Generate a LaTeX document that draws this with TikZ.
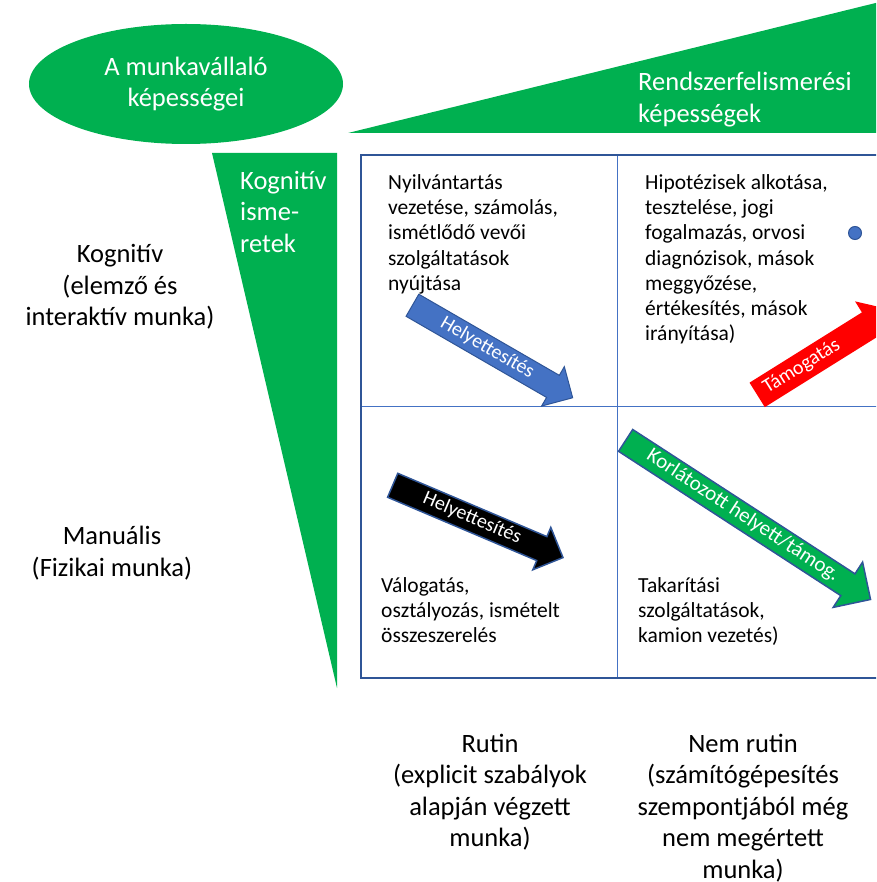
\documentclass[tikz,border=0pt]{standalone}
\usepackage{fontspec}
\setmainfont{Carlito}
\setsansfont{Carlito}
\definecolor{kgreen}{RGB}{0,176,80}
\definecolor{kblue}{RGB}{68,114,196}
\definecolor{kdarkblue}{RGB}{47,85,151}
\tikzset{every picture/.style={/utils/exec={\sffamily}}}
\usetikzlibrary{positioning}
\usetikzlibrary{shapes.geometric,shapes.arrows}
\tikzset{
  bigtext/.style={align=center, font=\fontsize{26.5}{31.5}\selectfont},
  celltext/.style={align=left, anchor=north west, inner sep=0pt,
    font=\fontsize{21.5}{25.3}\selectfont, execute at begin node=\strut},
  blockarrow/.style={single arrow, anchor=tail, text=white, inner xsep=4pt,
    inner ysep=3pt, text height=14pt, text depth=4.5pt,
    single arrow head extend=10pt, font=\fontsize{20}{22}\selectfont},
}

\begin{document}
\begin{tikzpicture}[x=1pt, y=-1pt]
  \useasboundingbox (0,0) rectangle (876,882);
  \clip (0,0) rectangle (876,882);

  % green headers
  \node [ellipse, fill=kgreen, minimum width=314pt, minimum height=120pt,
    text=white, bigtext] (skills) at (186,84) {A munkavállaló\\képességei};
  \fill [kgreen] (348,133) -- (900,-3) -- (900,133) -- cycle;
  \fill [kgreen] (212,153) -- (337,153) -- (337,688) -- cycle;
  \node [bigtext, align=left, anchor=north west, inner sep=0pt, text=white,
    execute at begin node=\strut] (pattern) at (638,72) {Rendszerfelismerési\\képességek};
  \node [bigtext, align=left, anchor=north west, inner sep=0pt, text=white,
    execute at begin node=\strut] (cognitive) at (240,171) {Kognitív\\isme-\\retek};

  % grid
  \coordinate (nw) at (361,155);
  \coordinate (se) at (900,678);
  \coordinate (mid) at (617,406);
  \draw [kblue, line width=1pt] (mid |- nw) -- (mid |- se) (nw |- mid) -- (se |- mid);
  \draw [kdarkblue, line width=2.2pt] (nw) rectangle (se);

  % row and column labels
  \node [bigtext] (rowcog) at (120,287) {Kognitív\\(elemző és\\interaktív munka)};
  \node [bigtext] (rowman) at (112,553) {Manuális\\(Fizikai munka)};
  \node [bigtext] (colrut) at (490,792) {Rutin\\(explicit szabályok\\alapján végzett\\munka)};
  \node [bigtext] (colnon) at (743,808) {Nem rutin\\(számítógépesítés\\szempontjából még\\nem megértett\\munka)};

  % cells
  \node [celltext] (tl) at (388,174) {Nyilvántartás\\vezetése, számolás,\\ismétlődő vevői\\szolgáltatások\\nyújtása};
  \node [celltext] (tr) at (645,174) {Hipotézisek alkotása,\\tesztelése, jogi\\fogalmazás, orvosi\\diagnózisok, mások\\meggyőzése,\\értékesítés, mások\\irányítása)};
  \node [celltext] (bl) at (381,577) {Válogatás,\\osztályozás, ismételt\\összeszerelés};
  \node [celltext] (br) at (638,577) {Takarítási\\szolgáltatások,\\kamion vezetés)};
  \node [circle, fill=kblue, draw=kdarkblue, line width=1pt, minimum size=13pt,
    inner sep=0pt] (dot) at (855,233) {};

  % arrows
  \node [blockarrow, fill=kblue, draw=kdarkblue, line width=1pt, rotate=-30,
    minimum height=185pt] (subst1) at (412,305) {Helyettesítés};
  \node [blockarrow, fill=black, draw=kdarkblue, line width=1.5pt, rotate=-23,
    minimum height=185pt] (subst2) at (392,485) {Helyettesítés};
  \node [blockarrow, fill=kgreen, draw=kdarkblue, line width=1.5pt, rotate=-33,
    minimum height=292pt, single arrow head extend=14pt,
    font=\fontsize{21}{22}\selectfont] (limited) at (625,440) {Korlátozott helyett/támog.};
  \node [blockarrow, fill=red, rotate=32, inner ysep=5pt, minimum height=160pt,
    single arrow head extend=13pt] (support) at (757,395) {Támogatás\hspace*{40pt}};
\end{tikzpicture}
\end{document}
